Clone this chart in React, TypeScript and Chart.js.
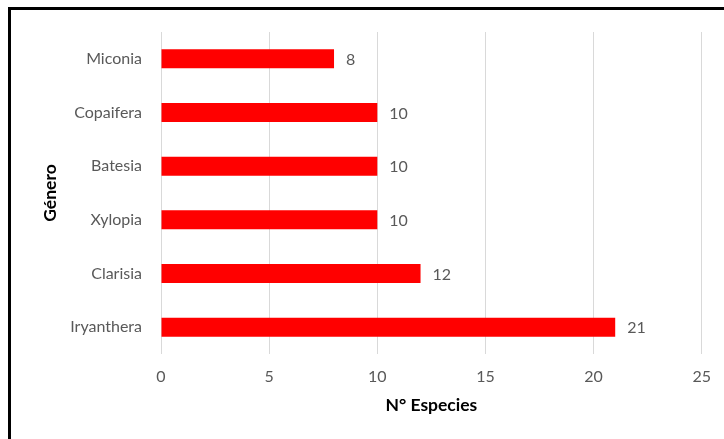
import React, { useEffect, useRef } from "react";
import { Chart, registerables } from "chart.js";

Chart.register(...registerables);

// Genera and their species counts
const genera = ["Miconia", "Copaifera", "Batesia", "Xylopia", "Clarisia", "Iryanthera"];
const speciesCounts = [8, 10, 10, 10, 12, 21];
const xTickValues = [0, 5, 10, 15, 20, 25];

const FONT = "Lato, 'Open Sans', 'Liberation Sans', sans-serif";
const TICK_COLOR = "#595959";

// Writes each bar's value just past its end
const valueLabels = {
  id: "valueLabels",
  afterDatasetsDraw(chart: any) {
    const ctx = chart.ctx;
    ctx.save();
    ctx.font = `16px ${FONT}`;
    ctx.fillStyle = TICK_COLOR;
    ctx.textAlign = "left";
    ctx.textBaseline = "middle";
    const meta = chart.getDatasetMeta(0);
    meta.data.forEach((bar: any, i: number) => {
      const v = chart.data.datasets[0].data[i];
      ctx.fillText(String(v), bar.x + 12, bar.y + 1);
    });
    ctx.restore();
  },
};

export default function App() {
  const canvasRef = useRef<HTMLCanvasElement | null>(null);

  useEffect(() => {
    const canvas = canvasRef.current;
    if (!canvas) return;
    const chart = new Chart(canvas, {
      type: "bar",
      data: {
        labels: genera,
        datasets: [
          {
            data: speciesCounts,
            backgroundColor: "#FF0000",
            borderWidth: 0,
            categoryPercentage: 1,
            barPercentage: 0.355,
          },
        ],
      },
      plugins: [valueLabels],
      options: {
        indexAxis: "y",
        responsive: false,
        animation: false,
        devicePixelRatio: 1,
        layout: { padding: { left: 0, right: 21, top: 32, bottom: 10 } },
        plugins: {
          legend: { display: false },
          tooltip: { enabled: false },
        },
        scales: {
          x: {
            min: 0,
            max: 25,
            afterBuildTicks: (scale: any) => {
              scale.ticks = xTickValues.map((v) => ({ value: v }));
            },
            afterFit: (scale: any) => {
              scale.height = 75;
            },
            ticks: {
              color: TICK_COLOR,
              font: { family: FONT, size: 16 },
              padding: 13,
              maxRotation: 0,
            },
            grid: { color: "#D9D9D9", lineWidth: 1, drawTicks: false },
            border: { display: false },
            title: {
              display: true,
              text: "N° Especies",
              color: "#000000",
              font: { family: FONT, size: 17.5, weight: "bold" },
              padding: { top: 0, bottom: 13 },
            },
          },
          y: {
            afterFit: (scale: any) => {
              scale.width = 161;
            },
            ticks: {
              color: TICK_COLOR,
              font: { family: FONT, size: 16 },
              padding: 19,
            },
            grid: { display: false, drawTicks: false },
            border: { display: false },
            title: {
              display: true,
              text: "Género",
              color: "#000000",
              font: { family: FONT, size: 17.5, weight: "bold" },
              padding: { top: 40, bottom: 0 },
            },
          },
        },
      },
    });
    return () => chart.destroy();
  }, []);

  return (
    <div
      style={{
        position: "fixed",
        left: 0,
        top: 0,
        width: 724,
        height: 439,
        overflow: "hidden",
        background: "#FFFFFF",
      }}
    >
      <div
        style={{
          position: "absolute",
          left: 8,
          top: 7,
          width: 780,
          height: 500,
          border: "3px solid #000000",
          boxSizing: "border-box",
        }}
      />
      <canvas
        ref={canvasRef}
        width={724}
        height={439}
        style={{ position: "absolute", left: 0, top: 0, width: 724, height: 439 }}
      />
    </div>
  );
}
